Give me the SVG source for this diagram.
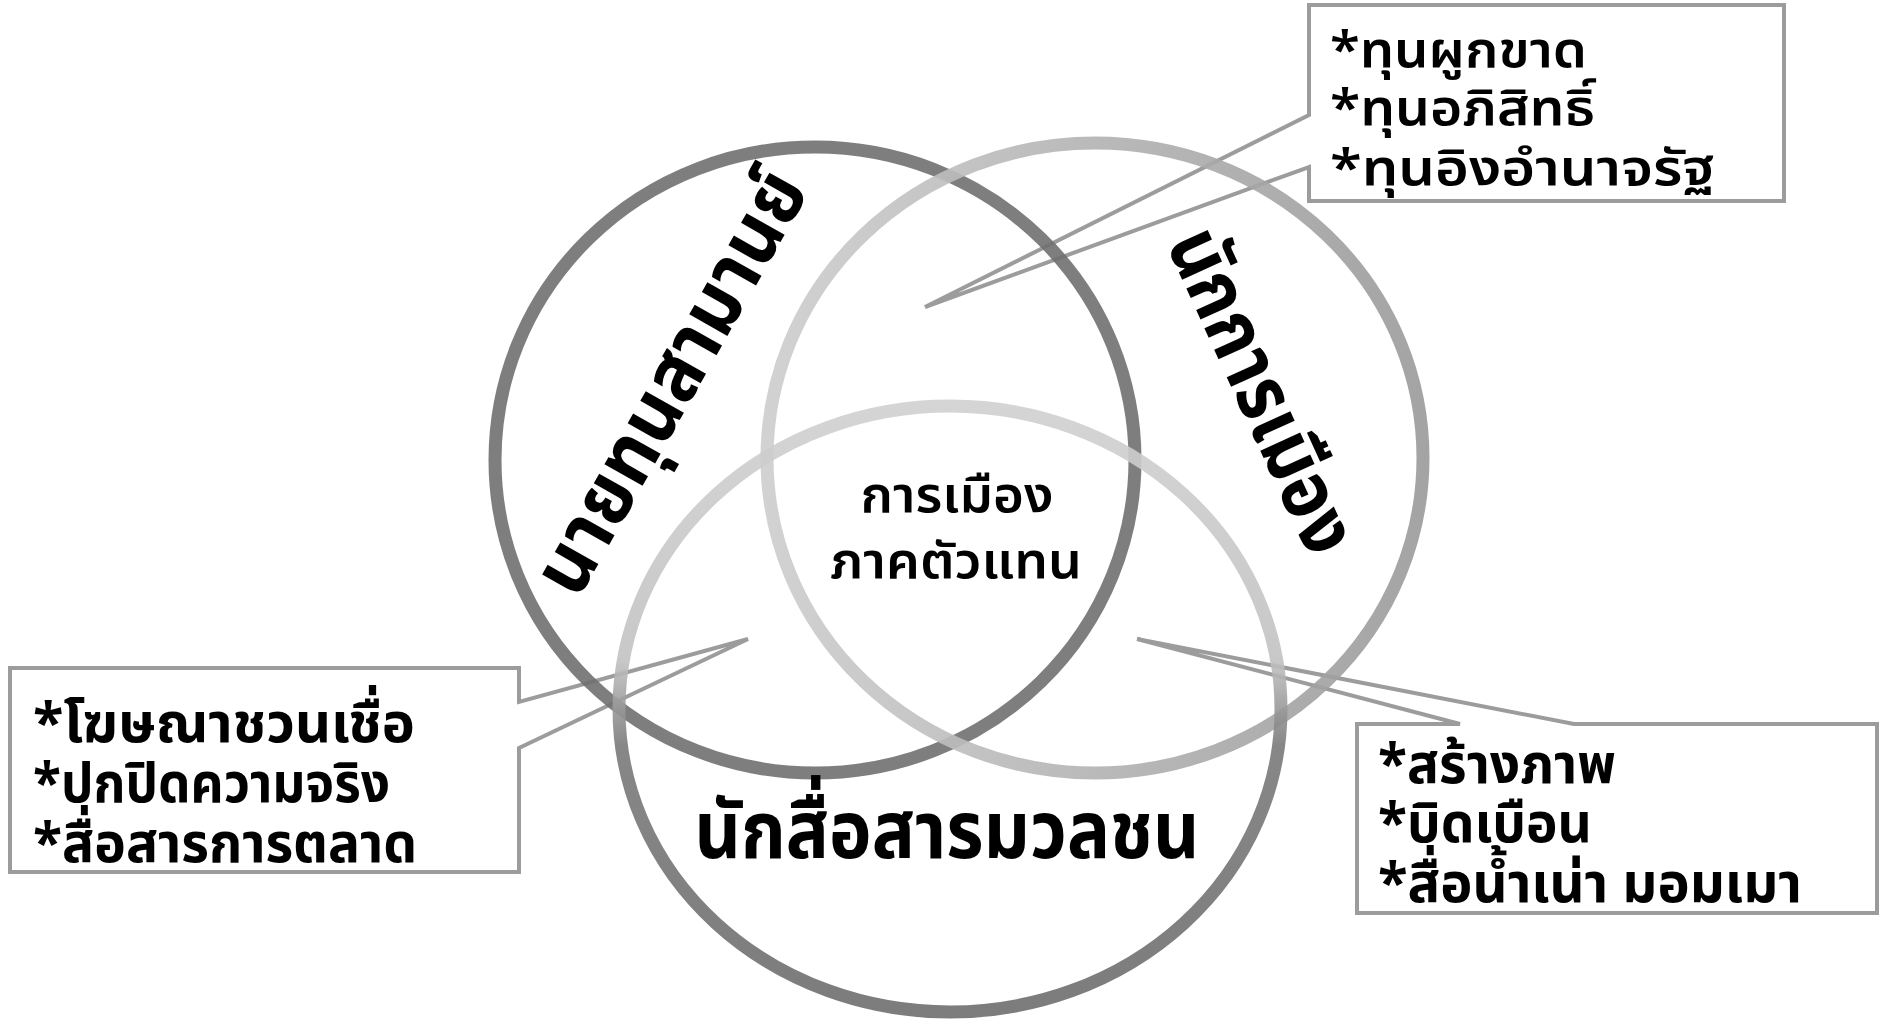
<svg xmlns="http://www.w3.org/2000/svg" width="1884" height="1019" viewBox="0 0 1884 1019">
<style>
.co{fill:#ffffff;stroke:#9c9c9c;stroke-width:4;stroke-linejoin:miter}
.ring{fill:none;stroke-width:13}
.t{font-family:"Noto Sans Thai","Noto Sans","DejaVu Sans",sans-serif;fill:#000}
.lbl{font-size:80px;font-weight:bold}
.ctr{font-size:50px;font-weight:600;text-anchor:middle}
.c1{font-size:50px;font-weight:600}
.c2{font-size:55px;font-weight:bold}
</style>
<defs>
<linearGradient id="gR" x1="0" y1="0" x2="1" y2="0">
<stop offset="0" stop-color="#cdcdcd"/>
<stop offset="0.5" stop-color="#b2b2b2"/>
<stop offset="1" stop-color="#9a9a9a"/>
</linearGradient>
<linearGradient id="gB" x1="0" y1="0" x2="0" y2="1">
<stop offset="0" stop-color="#d0d0d0"/>
<stop offset="0.42" stop-color="#c2c2c2"/>
<stop offset="0.56" stop-color="#7a7a7a"/>
<stop offset="1" stop-color="#6e6e6e"/>
</linearGradient>
</defs>
<rect width="1884" height="1019" fill="#ffffff"/>
<g id="connectors">
<path id="callout-top" class="co" d="M1309,5 H1784 V201 H1309 V167 L925,307 L1309,115 Z"/>
<path id="callout-left" class="co" d="M10,668 H519 V702 L748,639 L519,748 V872 H10 Z"/>
<path id="callout-right" class="co" d="M1357,724 H1460 L1137,639 L1574,724 H1877 V913 H1357 Z"/>
</g>
<g id="circle-capitalist">
<ellipse class="ring" cx="815" cy="460" rx="320" ry="313" stroke="#707070" stroke-opacity="0.9"/>
</g>
<g id="circle-politician">
<ellipse class="ring" cx="1095" cy="458" rx="328" ry="315" stroke="url(#gR)" stroke-opacity="0.9"/>
</g>
<g id="circle-media">
<ellipse class="ring" cx="950" cy="709" rx="331" ry="303" stroke="url(#gB)" stroke-opacity="0.9"/>
</g>
<g id="label-capitalist">
<text class="t lbl" text-anchor="middle" transform="translate(694,395) rotate(-60.5)" textLength="472" lengthAdjust="spacingAndGlyphs">นายทุนสามานย์</text>
</g>
<g id="label-politician">
<text class="t lbl" text-anchor="middle" transform="translate(1238,402) rotate(65.5)" textLength="348" lengthAdjust="spacingAndGlyphs">นักการเมือง</text>
</g>
<g id="label-media">
<text class="t lbl" x="947" y="858" text-anchor="middle" textLength="505" lengthAdjust="spacingAndGlyphs">นักสื่อสารมวลชน</text>
</g>
<g id="center">
<text class="t ctr" x="957" y="512" textLength="193" lengthAdjust="spacingAndGlyphs">การเมือง</text>
<text class="t ctr" x="956" y="578" textLength="252" lengthAdjust="spacingAndGlyphs">ภาคตัวแทน</text>
</g>
<g id="note-top">
<text class="t c1" x="1330" y="67" textLength="257" lengthAdjust="spacingAndGlyphs">*ทุนผูกขาด</text>
<text class="t c1" x="1330" y="125" textLength="265" lengthAdjust="spacingAndGlyphs">*ทุนอภิสิทธิ์</text>
<text class="t c1" x="1330" y="185" textLength="385" lengthAdjust="spacingAndGlyphs">*ทุนอิงอำนาจรัฐ</text>
</g>
<g id="note-left">
<text class="t c2" x="33" y="742" textLength="382" lengthAdjust="spacingAndGlyphs">*โฆษณาชวนเชื่อ</text>
<text class="t c2" x="33" y="802" textLength="357" lengthAdjust="spacingAndGlyphs">*ปกปิดความจริง</text>
<text class="t c2" x="33" y="862" textLength="384" lengthAdjust="spacingAndGlyphs">*สื่อสารการตลาด</text>
</g>
<g id="note-right">
<text class="t c2" x="1378" y="783" textLength="238" lengthAdjust="spacingAndGlyphs">*สร้างภาพ</text>
<text class="t c2" x="1378" y="842" textLength="214" lengthAdjust="spacingAndGlyphs">*บิดเบือน</text>
<text class="t c2" x="1378" y="902" textLength="424" lengthAdjust="spacingAndGlyphs">*สื่อน้ำเน่า มอมเมา</text>
</g>
</svg>
